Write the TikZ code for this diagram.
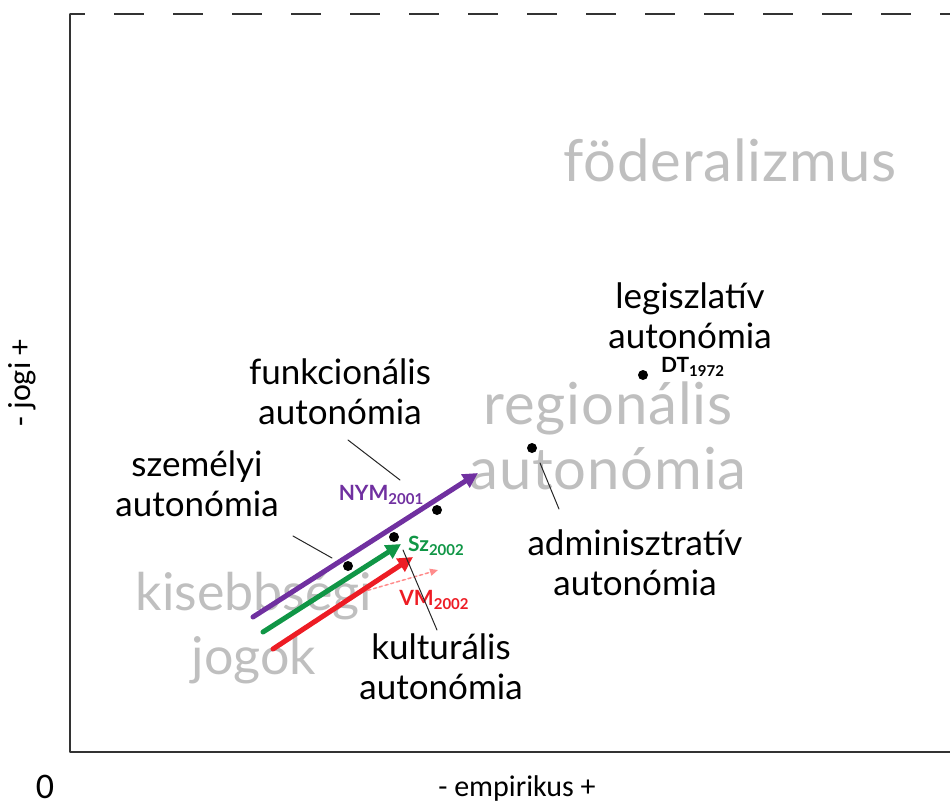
\documentclass[tikz,border=0pt]{standalone}
\usepackage{fontspec}
\setmainfont{Lato}
\newfontfamily\axisfont{Carlito}
\usetikzlibrary{arrows.meta}
\tikzset{
  axisline/.style={draw=black!80, line width=2pt},
  zone/.style={text=black!25, font=\fontsize{58}{65}\selectfont\addfontfeature{LetterSpace=1.5}, align=center},
  caption/.style={font=\fontsize{35}{40}\selectfont, align=center},
  spot/.style={circle, fill=black, inner sep=0pt, minimum size=10pt},
  pointer/.style={draw=black!85, line width=1pt},
  trend/.style={line width=5pt, -{Triangle[length=15pt,width=15pt]}},
  tag/.style={font=\bfseries\fontsize{21}{22}\selectfont, inner sep=1pt}
}
\newcommand{\yr}[1]{\raisebox{-0.2em}{\fontsize{15}{16}\selectfont #1}}

\begin{document}
\begin{tikzpicture}[x=1pt,y=-1pt,line cap=round,line join=round]
  \useasboundingbox (0,0) rectangle (950,807);
  % frame of the plane
  \coordinate (origin) at (70,752);
  \coordinate (top) at (70,14);
  \coordinate (right) at (950,752);
  \coordinate (topright) at (950,14);
  \draw [axisline] (top) -- (origin) -- (right);
  \draw [axisline, line cap=butt, dash pattern=on 30pt off 29pt, dash phase=15pt] (top) -- (topright);
  \node [font=\axisfont\fontsize{36}{38}\selectfont, inner sep=0pt] (zero) at (45,787) {0};
  \node [font=\axisfont\fontsize{30}{32}\selectfont] (xlab) at (517,788) {- empirikus +};
  \node [font=\axisfont\fontsize{32}{34}\selectfont, rotate=90] (ylab) at (22,383) {- jogi +};

  % grey zones
  \node [zone] (fed) at (730,160) {föderalizmus};
  \node [zone] (reg) at (608,436) {regionális\\autonómia};
  \node [zone, font=\fontsize{52}{64}\selectfont] (kis) at (254,628) {kisebbségi\\jogok};

  % black labels
  \node [caption] (legis) at (690,316) {legiszlatív\\autonómia};
  \node [caption] (funk) at (340,392) {funkcionális\\autonómia};
  \node [caption] (szem) at (197,484) {személyi\\autonómia};
  \node [caption] (admin) at (635,563) {adminisztratív\\autonómia};
  \node [caption] (kult) at (441,667) {kulturális\\autonómia};

  % points
  \node [spot] (dt) at (643,375) {};
  \node [spot] (adm) at (532,448) {};
  \node [spot] (nym) at (437,510) {};
  \node [spot] (sz) at (394,537) {};
  \node [spot] (sze) at (348,566) {};
  \node [tag, anchor=west] (dtlab) at (660,367) {DT\yr{1972}};

  % trends
  \coordinate (p0) at (253,617);
  \coordinate (p1) at (478,473);
  \coordinate (g0) at (263,632);
  \coordinate (g1) at (401,544);
  \coordinate (r0) at (273,649);
  \coordinate (r1) at (413,557);
  \coordinate (d0) at (362,592);
  \coordinate (d1) at (438,570);
  \draw [trend, draw=red!45, line width=1.5pt, dashed, -{Triangle[length=8pt,width=7pt]}, fill=red!45] (d0) -- (d1);
  \draw [trend, draw={rgb,255:red,112;green,48;blue,160}, fill={rgb,255:red,112;green,48;blue,160}] (p0) -- (p1);
  \draw [trend, draw={rgb,255:red,16;green,150;blue,70}, fill={rgb,255:red,16;green,150;blue,70}] (g0) -- (g1);
  \draw [trend, draw={rgb,255:red,237;green,28;blue,36}, fill={rgb,255:red,237;green,28;blue,36}] (r0) -- (r1);
  \node [tag, text={rgb,255:red,112;green,48;blue,160}] (nymlab) at (381,495) {NYM\yr{2001}};
  \node [tag, text={rgb,255:red,16;green,150;blue,70}] (szlab) at (436,546) {Sz\yr{2002}};
  \node [tag, text={rgb,255:red,237;green,28;blue,36}] (vmlab) at (434,600) {VM\yr{2002}};

  % pointers
  \coordinate (funk0) at (348,440);
  \coordinate (funk1) at (400,480);
  \coordinate (szem0) at (293,536);
  \coordinate (szem1) at (332,558);
  \coordinate (kult0) at (437,630);
  \coordinate (kult1) at (403,550);
  \coordinate (adm0) at (540,463);
  \coordinate (adm1) at (559,509);
  \draw [pointer] (funk0) -- (funk1);
  \draw [pointer] (szem0) -- (szem1);
  \draw [pointer] (kult0) -- (kult1);
  \draw [pointer] (adm0) -- (adm1);
\end{tikzpicture}
\end{document}
